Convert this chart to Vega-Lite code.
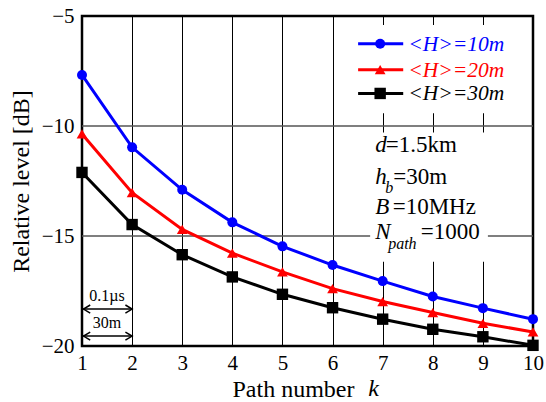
{
  "$schema": "https://vega.github.io/schema/vega-lite/v6.json",
  "width": 451,
  "height": 330,
  "autosize": {"type": "none"},
  "padding": {"left": 82, "top": 16, "right": 13, "bottom": 56},
  "background": "white",
  "config": {
    "view": {"stroke": "black", "strokeWidth": 2.5},
    "font": "Liberation Serif",
    "text": {"font": "Liberation Serif"},
    "axis": {"labelFont": "Liberation Serif", "titleFont": "Liberation Serif", "labelFontSize": 21, "titleFontSize": 24, "labelColor": "black", "titleColor": "black", "titleFontWeight": "normal"}
  },
  "resolve": {"scale": {"shape": "independent", "size": "independent"}},
  "datasets": {
    "series": [
      {"k": 1, "level": -7.68, "series": "<H>=10m"},
      {"k": 2, "level": -10.97, "series": "<H>=10m"},
      {"k": 3, "level": -12.9, "series": "<H>=10m"},
      {"k": 4, "level": -14.38, "series": "<H>=10m"},
      {"k": 5, "level": -15.47, "series": "<H>=10m"},
      {"k": 6, "level": -16.32, "series": "<H>=10m"},
      {"k": 7, "level": -17.05, "series": "<H>=10m"},
      {"k": 8, "level": -17.75, "series": "<H>=10m"},
      {"k": 9, "level": -18.28, "series": "<H>=10m"},
      {"k": 10, "level": -18.78, "series": "<H>=10m"},
      {"k": 1, "level": -10.36, "series": "<H>=20m"},
      {"k": 2, "level": -13.03, "series": "<H>=20m"},
      {"k": 3, "level": -14.7, "series": "<H>=20m"},
      {"k": 4, "level": -15.78, "series": "<H>=20m"},
      {"k": 5, "level": -16.63, "series": "<H>=20m"},
      {"k": 6, "level": -17.39, "series": "<H>=20m"},
      {"k": 7, "level": -17.98, "series": "<H>=20m"},
      {"k": 8, "level": -18.48, "series": "<H>=20m"},
      {"k": 9, "level": -18.97, "series": "<H>=20m"},
      {"k": 10, "level": -19.36, "series": "<H>=20m"},
      {"k": 1, "level": -12.11, "series": "<H>=30m"},
      {"k": 2, "level": -14.48, "series": "<H>=30m"},
      {"k": 3, "level": -15.85, "series": "<H>=30m"},
      {"k": 4, "level": -16.86, "series": "<H>=30m"},
      {"k": 5, "level": -17.65, "series": "<H>=30m"},
      {"k": 6, "level": -18.26, "series": "<H>=30m"},
      {"k": 7, "level": -18.78, "series": "<H>=30m"},
      {"k": 8, "level": -19.24, "series": "<H>=30m"},
      {"k": 9, "level": -19.58, "series": "<H>=30m"},
      {"k": 10, "level": -19.97, "series": "<H>=30m"}
    ],
    "boxes": [
      {"x1": 6.4, "x2": 9.96, "y1": -5.41, "y2": -9.42},
      {"x1": 6.4, "x2": 9.96, "y1": -10.3, "y2": -16.17}
    ],
    "hlines": [
      {"x1": 1, "x2": 10, "y": -10},
      {"x1": 1, "x2": 6.75, "y": -15},
      {"x1": 9.1, "x2": 10, "y": -15}
    ],
    "legend": [
      {"series": "<H>=10m", "x1": 6.51, "x2": 7.41, "xm": 6.95, "xt": 7.51, "y": -6.26},
      {"series": "<H>=20m", "x1": 6.51, "x2": 7.41, "xm": 6.95, "xt": 7.51, "y": -7.44},
      {"series": "<H>=30m", "x1": 6.51, "x2": 7.41, "xm": 6.95, "xt": 7.51, "y": -8.52}
    ],
    "notes": [
      {"kind": "var", "x": 6.85, "y": -11.2, "text": "d"},
      {"kind": "var", "x": 6.85, "y": -12.62, "text": "h"},
      {"kind": "var", "x": 6.85, "y": -13.98, "text": "B"},
      {"kind": "var", "x": 6.85, "y": -15.12, "text": "N"},
      {"kind": "main", "x": 7.06, "y": -11.2, "text": "=1.5km"},
      {"kind": "main", "x": 7.21, "y": -12.62, "text": "=30m"},
      {"kind": "main", "x": 7.2, "y": -13.98, "text": "=10MHz"},
      {"kind": "main", "x": 7.76, "y": -15.12, "text": "=1000"},
      {"kind": "sub", "x": 7.05, "y": -13.03, "text": "b"},
      {"kind": "sub", "x": 7.11, "y": -15.58, "text": "path"},
      {"kind": "small", "x": 1.5, "y": -17.95, "text": "0.1µs"},
      {"kind": "small", "x": 1.5, "y": -19.18, "text": "30m"},
      {"kind": "axisk", "x": 6.71, "y": -22.28, "text": "k"}
    ],
    "arrows": [
      {"x1": 1, "x2": 2, "y": -18.32},
      {"x1": 1, "x2": 2, "y": -19.55}
    ],
    "heads": [
      {"x": 1.03, "y": -18.32, "dir": "L"},
      {"x": 2, "y": -18.32, "dir": "R"},
      {"x": 1.03, "y": -19.55, "dir": "L"},
      {"x": 2, "y": -19.55, "dir": "R"}
    ]
  },
  "layer": [
    {
      "data": {"name": "boxes"},
      "mark": {"type": "rect", "fill": "white"},
      "encoding": {
        "x": {"field": "x1", "type": "quantitative",
          "scale": {"domain": [1, 10], "nice": false, "zero": false},
          "axis": {"values": [1, 2, 3, 4, 5, 6, 7, 8, 9, 10], "grid": true, "gridColor": "black", "gridWidth": 1, "gridOpacity": 1, "ticks": false, "domain": false, "labelPadding": 6, "labelFlush": false, "labelOverlap": false, "labelFont": "Liberation Serif", "titleFont": "Liberation Serif", "title": "Path number", "titleX": 211, "titleY": 50, "titleAlign": "center", "titleBaseline": "alphabetic"}},
        "x2": {"field": "x2"},
        "y": {"field": "y1", "type": "quantitative",
          "scale": {"domain": [-20, -5], "nice": false, "zero": false},
          "axis": {"values": [-20, -15, -10, -5], "format": "d", "grid": false, "ticks": false, "domain": false, "labelPadding": 8, "labelFlush": false, "labelFont": "Liberation Serif", "titleFont": "Liberation Serif", "title": "Relative level [dB]", "titlePadding": 8}},
        "y2": {"field": "y2"}
      }
    },
    {
      "data": {"name": "hlines"},
      "mark": {"type": "rule", "color": "#555555", "strokeWidth": 1.5},
      "encoding": {
        "x": {"field": "x1", "type": "quantitative"},
        "x2": {"field": "x2"},
        "y": {"field": "y", "type": "quantitative"}
      }
    },
    {
      "data": {"name": "series"},
      "mark": {"type": "line", "strokeWidth": 3},
      "encoding": {
        "x": {"field": "k", "type": "quantitative"},
        "y": {"field": "level", "type": "quantitative"},
        "color": {"field": "series", "type": "nominal", "scale": {"domain": ["<H>=10m", "<H>=20m", "<H>=30m"], "range": ["#0000ff", "#ff0000", "#000000"]}, "legend": null}
      }
    },
    {
      "data": {"name": "series"},
      "mark": {"type": "point", "filled": true, "opacity": 1},
      "encoding": {
        "x": {"field": "k", "type": "quantitative"},
        "y": {"field": "level", "type": "quantitative"},
        "color": {"field": "series", "type": "nominal", "legend": null},
        "shape": {"field": "series", "type": "nominal", "scale": {"domain": ["<H>=10m", "<H>=20m", "<H>=30m"], "range": ["circle", "triangle-up", "square"]}, "legend": null},
        "size": {"field": "series", "type": "nominal", "scale": {"domain": ["<H>=10m", "<H>=20m", "<H>=30m"], "range": [100, 130, 110]}, "legend": null}
      }
    },
    {
      "data": {"name": "legend"},
      "mark": {"type": "rule", "strokeWidth": 3},
      "encoding": {
        "x": {"field": "x1", "type": "quantitative"},
        "x2": {"field": "x2"},
        "y": {"field": "y", "type": "quantitative"},
        "color": {"field": "series", "type": "nominal", "legend": null}
      }
    },
    {
      "data": {"name": "legend"},
      "mark": {"type": "point", "filled": true, "opacity": 1},
      "encoding": {
        "x": {"field": "xm", "type": "quantitative"},
        "y": {"field": "y", "type": "quantitative"},
        "color": {"field": "series", "type": "nominal", "legend": null},
        "shape": {"field": "series", "type": "nominal", "scale": {"domain": ["<H>=10m", "<H>=20m", "<H>=30m"], "range": ["circle", "triangle-up", "square"]}, "legend": null},
        "size": {"field": "series", "type": "nominal", "scale": {"domain": ["<H>=10m", "<H>=20m", "<H>=30m"], "range": [100, 130, 110]}, "legend": null}
      }
    },
    {
      "data": {"name": "legend"},
      "mark": {"type": "text", "align": "left", "baseline": "middle", "fontSize": 21.5, "fontStyle": "italic", "font": "Liberation Serif", "dy": 1},
      "encoding": {
        "x": {"field": "xt", "type": "quantitative"},
        "y": {"field": "y", "type": "quantitative"},
        "text": {"field": "series"},
        "color": {"field": "series", "type": "nominal", "legend": null}
      }
    },
    {
      "data": {"name": "notes"},
      "transform": [{"filter": "datum.kind === 'var'"}],
      "mark": {"type": "text", "align": "left", "baseline": "alphabetic", "fontSize": 23, "fontStyle": "italic", "font": "Liberation Serif", "color": "black"},
      "encoding": {
        "x": {"field": "x", "type": "quantitative"},
        "y": {"field": "y", "type": "quantitative"},
        "text": {"field": "text"}
      }
    },
    {
      "data": {"name": "notes"},
      "transform": [{"filter": "datum.kind === 'main'"}],
      "mark": {"type": "text", "align": "left", "baseline": "alphabetic", "fontSize": 23, "font": "Liberation Serif", "color": "black"},
      "encoding": {
        "x": {"field": "x", "type": "quantitative"},
        "y": {"field": "y", "type": "quantitative"},
        "text": {"field": "text"}
      }
    },
    {
      "data": {"name": "notes"},
      "transform": [{"filter": "datum.kind === 'sub'"}],
      "mark": {"type": "text", "align": "left", "baseline": "alphabetic", "fontSize": 16, "fontStyle": "italic", "font": "Liberation Serif", "color": "black"},
      "encoding": {
        "x": {"field": "x", "type": "quantitative"},
        "y": {"field": "y", "type": "quantitative"},
        "text": {"field": "text"}
      }
    },
    {
      "data": {"name": "notes"},
      "transform": [{"filter": "datum.kind === 'small'"}],
      "mark": {"type": "text", "align": "center", "baseline": "alphabetic", "fontSize": 16, "font": "Liberation Serif", "color": "black"},
      "encoding": {
        "x": {"field": "x", "type": "quantitative"},
        "y": {"field": "y", "type": "quantitative"},
        "text": {"field": "text"}
      }
    },
    {
      "data": {"name": "notes"},
      "transform": [{"filter": "datum.kind === 'axisk'"}],
      "mark": {"type": "text", "align": "left", "baseline": "alphabetic", "fontSize": 24, "fontStyle": "italic", "font": "Liberation Serif", "color": "black"},
      "encoding": {
        "x": {"field": "x", "type": "quantitative"},
        "y": {"field": "y", "type": "quantitative"},
        "text": {"field": "text"}
      }
    },
    {
      "data": {"name": "arrows"},
      "mark": {"type": "rule", "color": "black", "strokeWidth": 1.5},
      "encoding": {
        "x": {"field": "x1", "type": "quantitative"},
        "x2": {"field": "x2"},
        "y": {"field": "y", "type": "quantitative"}
      }
    },
    {
      "data": {"name": "heads"},
      "mark": {"type": "point", "filled": false, "color": "black", "strokeWidth": 1.5, "opacity": 1, "size": 180},
      "encoding": {
        "x": {"field": "x", "type": "quantitative"},
        "y": {"field": "y", "type": "quantitative"},
        "shape": {"field": "dir", "type": "nominal", "scale": {"domain": ["L", "R"], "range": ["M1,-0.6L0,0L1,0.6", "M-1,-0.6L0,0L-1,0.6"]}, "legend": null}
      }
    }
  ]
}
